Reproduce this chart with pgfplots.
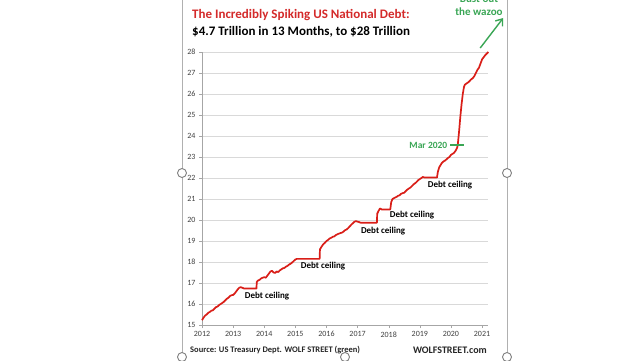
\documentclass[border=0pt]{standalone}
\usepackage{pgfplots}
\pgfplotsset{compat=1.18}
\usetikzlibrary{arrows.meta}
\usepackage{fontspec}
\setmainfont{Carlito}
\definecolor{debtred}{HTML}{D91E18}
\definecolor{titlered}{HTML}{D42A2A}
\definecolor{wgreen}{HTML}{3AA655}
\definecolor{gridgray}{HTML}{D9D9D9}
\definecolor{axgray}{HTML}{A6A6A6}
\definecolor{framegray}{HTML}{B0B0B0}
\begin{document}
\begin{tikzpicture}[x=1pt,y=1pt]
\useasboundingbox (0,0) rectangle (640,360);
\fill[white] (0,0) rectangle (640,360);
% slide frame lines and handles
\draw[framegray, line width=0.8pt] (182,0) -- (182,360);
\draw[framegray, line width=0.8pt] (507,0) -- (507,360);
\foreach \p in {(182,187),(507,187),(182,3),(345,3),(507,3)}{
  \draw[gray, fill=white, line width=0.9pt] \p circle (4.5);
}
\begin{axis}[
  at={(202pt,35pt)}, anchor=south west,
  scale only axis, width=286pt, height=273pt,
  xmin=2012, xmax=2021.19, ymin=15, ymax=28,
  axis lines=left, axis line style={axgray, -},
  xtick={2012,...,2021}, ytick={15,...,28},
  xticklabel style={/pgf/number format/1000 sep={}},
  tick align=outside, major tick length=3pt,
  tick style={axgray},
  ymajorgrids, grid style={gridgray, line width=0.6pt},
  tick label style={font=\fontsize{8}{9}\selectfont, text=black!75},
  /pgf/number format/assume math mode=true,
  clip=false,
]
\addplot[debtred, line width=1.7pt, line join=round] coordinates {
(2012.00,15.23)(2012.05,15.35)(2012.10,15.45)(2012.15,15.50)(2012.20,15.58)
(2012.25,15.62)(2012.30,15.68)(2012.35,15.70)(2012.40,15.78)(2012.45,15.85)
(2012.50,15.88)(2012.55,15.95)(2012.60,16.00)(2012.65,16.05)(2012.70,16.10)
(2012.75,16.18)(2012.80,16.25)(2012.85,16.30)(2012.90,16.38)(2012.95,16.42)
(2013.00,16.43)(2013.05,16.50)(2013.10,16.60)(2013.15,16.70)(2013.20,16.78)
(2013.25,16.80)(2013.30,16.77)(2013.35,16.74)(2013.75,16.74)(2013.76,17.05)
(2013.80,17.12)(2013.85,17.15)(2013.90,17.22)(2013.95,17.25)(2014.00,17.28)
(2014.05,17.25)(2014.10,17.35)(2014.15,17.45)(2014.20,17.55)(2014.25,17.58)
(2014.30,17.50)(2014.35,17.48)(2014.40,17.55)(2014.45,17.52)(2014.50,17.60)
(2014.55,17.65)(2014.60,17.70)(2014.65,17.72)(2014.70,17.78)(2014.75,17.82)
(2014.80,17.88)(2014.85,17.92)(2014.90,17.98)(2014.95,18.05)(2015.00,18.12)
(2015.05,18.15)(2015.78,18.15)(2015.79,18.60)(2015.85,18.75)(2015.90,18.85)
(2015.95,18.92)(2016.00,19.00)(2016.05,19.05)(2016.10,19.12)(2016.15,19.15)
(2016.20,19.20)(2016.25,19.22)(2016.30,19.28)(2016.35,19.32)(2016.40,19.35)
(2016.45,19.38)(2016.50,19.40)(2016.55,19.45)(2016.60,19.52)(2016.65,19.55)
(2016.70,19.62)(2016.75,19.70)(2016.80,19.78)(2016.85,19.85)(2016.90,19.92)
(2016.95,19.95)(2017.00,19.92)(2017.05,19.90)(2017.10,19.87)(2017.62,19.87)
(2017.63,20.30)(2017.68,20.45)(2017.72,20.55)(2017.78,20.50)(2018.05,20.50)
(2018.08,20.85)(2018.12,21.00)(2018.18,21.05)(2018.25,21.10)(2018.30,21.15)
(2018.35,21.18)(2018.40,21.25)(2018.45,21.28)(2018.50,21.30)(2018.55,21.38)
(2018.60,21.45)(2018.65,21.50)(2018.70,21.55)(2018.75,21.62)(2018.80,21.70)
(2018.85,21.75)(2018.90,21.82)(2018.95,21.90)(2019.00,21.95)(2019.05,22.00)
(2019.10,22.05)(2019.15,22.02)(2019.55,22.02)(2019.58,22.30)(2019.62,22.50)
(2019.66,22.60)(2019.70,22.70)(2019.75,22.78)(2019.80,22.82)(2019.85,22.88)
(2019.90,22.95)(2019.95,23.00)(2020.00,23.10)(2020.05,23.15)(2020.10,23.20)
(2020.15,23.30)(2020.20,23.45)(2020.22,23.60)(2020.26,24.20)(2020.30,24.90)
(2020.34,25.50)(2020.38,26.00)(2020.42,26.35)(2020.45,26.45)(2020.50,26.50)
(2020.55,26.55)(2020.60,26.62)(2020.65,26.70)(2020.70,26.75)(2020.75,26.85)
(2020.80,27.00)(2020.85,27.15)(2020.90,27.25)(2020.95,27.45)(2021.00,27.65)
(2021.05,27.75)(2021.10,27.85)(2021.15,27.92)(2021.20,28.00)
};
\begin{scope}[font=\bfseries\fontsize{9}{10}\selectfont]
\node at (axis cs:2014.09,16.38) {Debt ceiling};
\node at (axis cs:2015.89,17.81) {Debt ceiling};
\node at (axis cs:2017.82,19.48) {Debt ceiling};
\node at (axis cs:2018.75,20.24) {Debt ceiling};
\node at (axis cs:2019.97,21.67) {Debt ceiling};
\end{scope}
\draw[wgreen, line width=1.2pt] (axis cs:2019.97,23.57) -- (axis cs:2020.42,23.57);
\node[anchor=east, inner sep=1pt, text=wgreen, font=\bfseries\fontsize{9.5}{10}\selectfont] at (axis cs:2019.92,23.57) {Mar 2020};
\draw[wgreen, line width=1.4pt, -{Straight Barb[length=6pt,width=9pt]}] (axis cs:2020.94,28.19) -- (axis cs:2021.68,29.62);
\end{axis}
% titles
\node[anchor=west, inner sep=0, text=titlered, font=\bfseries\fontsize{13}{15}\selectfont] at (192,345) {The Incredibly Spiking US National Debt:};
\node[anchor=west, inner sep=0, font=\bfseries\fontsize{13}{15}\selectfont] at (192,328) {\$4.7 Trillion in 13 Months, to \$28 Trillion};
\node[align=center, inner sep=0, text=wgreen, font=\bfseries\fontsize{11}{13}\selectfont] at (479,355) {Bust out\\the wazoo};
% footer
\node[anchor=west, inner sep=0, font=\bfseries\fontsize{8.5}{10}\selectfont, text=black!85] at (190,10) {Source: US Treasury Dept. WOLF STREET (green)};
\node[anchor=east, inner sep=0, font=\bfseries\fontsize{10}{11}\selectfont, text=black!85] at (487,10) {WOLFSTREET.com};
\end{tikzpicture}
\end{document}
